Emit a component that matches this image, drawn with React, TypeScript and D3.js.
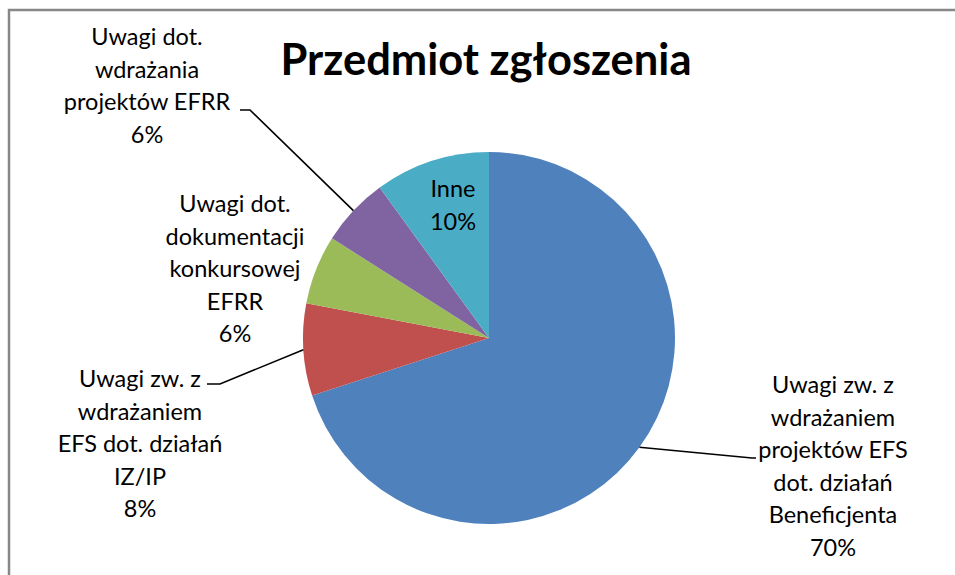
import React, { useEffect, useRef } from 'react';
import * as d3 from 'd3';

// dane
const categories = [
    'Uwagi zw. z wdrażaniem projektów EFS dot. działań Beneficjenta',
    'Uwagi zw. z wdrażaniem EFS dot. działań IZ/IP',
    'Uwagi dot. dokumentacji konkursowej EFRR',
    'Uwagi dot. wdrażania projektów EFRR',
    'Inne',
];
const values = [70, 8, 6, 6, 10];
const labelLines = [
    ['Uwagi zw. z', 'wdrażaniem', 'projektów EFS', 'dot. działań', 'Beneficjenta'],
    ['Uwagi zw. z', 'wdrażaniem', 'EFS dot. działań', 'IZ/IP'],
    ['Uwagi dot.', 'dokumentacji', 'konkursowej', 'EFRR'],
    ['Uwagi dot.', 'wdrażania', 'projektów EFRR'],
    ['Inne'],
];
const colors = ['#4F81BD', '#C0504D', '#9BBB59', '#8064A2', '#4BACC6'];
const title = 'Przedmiot zgłoszenia';

// rozmieszczenie etykiet (srodek tekstu, pierwsza linia) i punkt lamania linii
const labelLayout = [
    { x: 833, y: 393, leader: true, elbow: [752, 458], hook: 756 },
    { x: 140, y: 387, leader: true, elbow: [220, 384], hook: 207 },
    { x: 235, y: 212, leader: false },
    { x: 147, y: 45, leader: true, elbow: [250, 110], hook: 240 },
    { x: 453, y: 197, leader: false },
];

const FONT = 'Lato, Carlito, Calibri, sans-serif';

export default function App() {
    const ref = useRef<SVGSVGElement>(null);

    useEffect(() => {
        const width = 955, height = 575;
        const cx = 489, cy = 338, radius = 186;
        const lineH = 32.5;

        const svg = d3.select(ref.current);
        svg.selectAll('*').remove();
        svg.attr('width', width).attr('height', height);

        svg.append('rect')
            .attr('x', 0).attr('y', 0)
            .attr('width', width).attr('height', height)
            .attr('fill', '#fff');

        // ramka
        svg.append('path')
            .attr('d', `M9,${height + 5}V10H${width + 5}`)
            .attr('fill', 'none')
            .attr('stroke', '#878787')
            .attr('stroke-width', 2.5);

        svg.append('text')
            .attr('x', 486)
            .attr('y', 75)
            .attr('text-anchor', 'middle')
            .style('font-family', FONT)
            .style('font-weight', 'bold')
            .style('font-size', '43.5px')
            .attr('fill', '#000')
            .text(title);

        const pie = d3.pie<number>().sort(null).value(d => d)(values);
        const arc = d3.arc<d3.PieArcDatum<number>>().innerRadius(0).outerRadius(radius);

        const g = svg.append('g').attr('transform', `translate(${cx},${cy})`);
        g.selectAll('path.slice')
            .data(pie)
            .enter()
            .append('path')
            .attr('class', 'slice')
            .attr('d', arc)
            .attr('fill', (d, i) => colors[i]);

        const total = d3.sum(values);

        pie.forEach((d, i) => {
            const lay = labelLayout[i];
            const mid = (d.startAngle + d.endAngle) / 2;
            const px = cx + radius * Math.sin(mid);
            const py = cy - radius * Math.cos(mid);

            if (lay.leader && lay.elbow) {
                svg.append('polyline')
                    .attr('points', `${px},${py} ${lay.elbow[0]},${lay.elbow[1]} ${lay.hook},${lay.elbow[1]}`)
                    .attr('fill', 'none')
                    .attr('stroke', '#000')
                    .attr('stroke-width', 1.6);
            }

            const lines = labelLines[i].concat([Math.round(values[i] / total * 100) + '%']);
            const t = svg.append('text')
                .attr('text-anchor', 'middle')
                .style('font-family', FONT)
                .style('font-size', '23.5px')
                .attr('fill', '#000');
            t.append('title').text(categories[i]);
            lines.forEach((ln, k) => {
                t.append('tspan')
                    .attr('x', lay.x)
                    .attr('y', lay.y + k * lineH)
                    .text(ln);
            });
        });
    }, []);

    return (
        <div>
            <svg ref={ref} style={{ position: 'absolute', left: 0, top: 0 }}></svg>
        </div>
    );
}
